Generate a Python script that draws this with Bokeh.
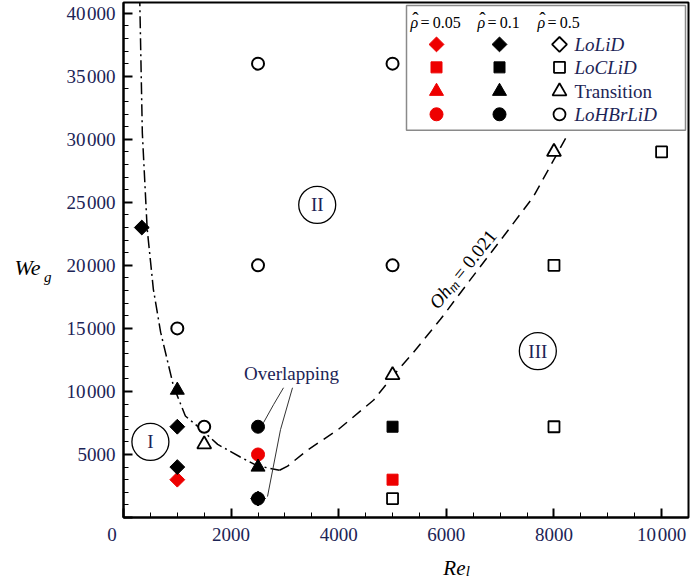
import math
from bokeh.plotting import figure
from bokeh.models import Range1d, FixedTicker, LinearAxis
from bokeh.embed import file_html
from bokeh.resources import INLINE
from bokeh.core.properties import value

# ---------------- data ----------------
x_ticks = [0, 2000, 4000, 6000, 8000, 10000]
x_tick_labels = ["0\u2003\u2009", "2000", "4000", "6000", "8000", "10\u200a000"]
x_minor = [500, 1000, 1500, 2500, 3000, 3500, 4500, 5000, 5500, 6500, 7000, 7500, 8500, 9000, 9500]
y_ticks = [0, 5000, 10000, 15000, 20000, 25000, 30000, 35000, 40000]
y_tick_labels = ["", "5000", "10\u200a000", "15\u200a000", "20\u200a000", "25\u200a000",
                 "30\u200a000", "35\u200a000", "40\u200a000"]
y_minor = [v for v in range(1000, 40001, 1000) if v % 5000]

# rho = 0.05 (red filled)
red_diamond_re = [1000]
red_diamond_we = [3000]
red_square_re = [5000]
red_square_we = [3000]
red_circle_re = [2500]
red_circle_we = [5000]

# rho = 0.1 (black filled)
blk_diamond_re = [340, 1000, 1000, 2500]
blk_diamond_we = [23000, 7200, 4000, 1500]
blk_square_re = [5000]
blk_square_we = [7200]
blk_triangle_re = [1000, 2500]
blk_triangle_we = [10100, 4000]
blk_circle_re = [2500, 2500]
blk_circle_we = [7200, 1500]

# rho = 0.5 (open)
opn_square_re = [5000, 8000, 8000, 10000]
opn_square_we = [1500, 7200, 20000, 29000]
opn_triangle_re = [1500, 5000, 8000]
opn_triangle_we = [5800, 11300, 29000]
opn_circle_re = [1000, 1500, 2500, 2500, 5000, 5000]
opn_circle_we = [15000, 7200, 20000, 36000, 20000, 36000]

# boundary curves
dd_re = [300, 350, 440, 555, 690, 930, 1150, 1400, 1750, 2170, 2490, 2900]
dd_we = [41500, 30500, 22900, 18100, 14700, 10400, 8050, 7150, 5800, 4800, 4100, 3750]
oh_re = [2900, 3050, 3420, 3980, 4650, 5020, 5390, 5890, 6450, 7060, 7620, 8070, 8270]
oh_we = [3750, 4080, 5350, 6940, 9320, 11290, 13110, 15720, 18890, 22290, 25460, 28940, 30500]

# regime labels
regime_names = ["I", "II", "III"]
regime_re = [500, 3600, 7700]
regime_we = [6000, 24800, 13200]

# axis-title anchor values (data units)
we_title_at = 19800
g_sub_at = 19100
re_title_at = 6150
l_sub_at = 6400

# ---------------- figure ----------------
W, H = 690, 582
BL, BR, BT, BB = 123, 2, 2, 64
X_MAX, Y_MAX = 10500, 40850
SX = (W - BL - BR) / X_MAX
SY = (H - BT - BB) / Y_MAX
FL, FB = BL, H - BB


def X(px):
    return (px - FL) / SX


def Y(py):
    return (FB - py) / SY


RED = "#ee0000"
NAVY = "#1c2456"
SERIF = "Liberation Serif"

p = figure(width=W, height=H, x_range=Range1d(0, X_MAX), y_range=Range1d(0, Y_MAX),
           output_backend="svg", toolbar_location=None,
           min_border_left=BL, min_border_right=BR, min_border_top=BT, min_border_bottom=BB)
p.grid.visible = False
p.outline_line_color = "black"
p.outline_line_width = 2
p.background_fill_color = "white"
p.border_fill_color = "white"

p.xaxis.ticker = FixedTicker(ticks=x_ticks, minor_ticks=x_minor)
p.yaxis.ticker = FixedTicker(ticks=y_ticks, minor_ticks=y_minor)
p.xaxis.major_label_overrides = {t: s for t, s in zip(x_ticks, x_tick_labels)}
p.yaxis.major_label_overrides = {t: s for t, s in zip(y_ticks, y_tick_labels)}
for ax in (p.xaxis[0], p.yaxis[0]):
    ax.axis_line_width = 2
    ax.axis_line_color = "black"
    ax.major_tick_in = 9
    ax.major_tick_out = 0
    ax.minor_tick_in = 5
    ax.minor_tick_out = 0
    ax.major_tick_line_width = 2
    ax.minor_tick_line_width = 1
    ax.major_label_text_font = SERIF
    ax.major_label_text_font_size = "19px"
    ax.major_label_text_color = NAVY
p.xaxis.major_label_standoff = 6
p.yaxis.major_label_standoff = 8


def title_axis(tick, text, size, standoff):
    a = LinearAxis(ticker=FixedTicker(ticks=[tick], minor_ticks=[]),
                   major_label_overrides={tick: text})
    a.axis_line_color = None
    a.major_tick_line_color = None
    a.minor_tick_line_color = None
    a.major_tick_in = 0
    a.major_tick_out = 0
    a.major_label_standoff = standoff
    a.major_label_text_font = SERIF
    a.major_label_text_font_size = size
    a.major_label_text_font_style = "italic"
    a.major_label_text_color = "black"
    return a


# axis titles We_g (left) and Re_l (below), built as label-only axes
p.add_layout(title_axis(g_sub_at, "g", "15px", 12), "left")
p.add_layout(title_axis(we_title_at, "We", "22px", 0), "left")
p.add_layout(title_axis(re_title_at, "Re", "21px", 8), "below")
p.add_layout(title_axis(l_sub_at, "l", "15px", -20), "below")

# curves
p.line(dd_re, dd_we, line_color="black", line_width=1.5, line_dash="12 4 2 4")
p.line(oh_re, oh_we, line_color="black", line_width=1.5, line_dash="11 7")

# leader lines for "Overlapping"
p.line([X(283), X(273), X(263)], [Y(388), Y(405), Y(423)], line_color="#333333", line_width=1)
p.line([X(292), X(280), X(267)], [Y(388), Y(430), Y(497)], line_color="#333333", line_width=1)

# regime circles
p.scatter(regime_re, regime_we, marker="circle", size=37, fill_color="white",
          fill_alpha=0.0, line_color="black", line_width=1.3)
p.text(regime_re, regime_we, text=regime_names, text_font=value(SERIF), text_font_size="19px",
       text_color=NAVY, text_align="center", text_baseline="middle")

DSZ = 10.5   # diamond (rotated square) size
SQ = 11
TR = 14
CI = 13
D45 = math.pi / 4

# open (rho=0.5)
p.scatter(opn_square_re, opn_square_we, marker="square", size=SQ, fill_color="white",
          line_color="black", line_width=1.8)
p.scatter(opn_triangle_re, opn_triangle_we, marker="triangle", size=TR, fill_color="white",
          line_color="black", line_width=1.8)
p.scatter(opn_circle_re, opn_circle_we, marker="circle", size=12, fill_color="white",
          line_color="black", line_width=2)
# red (rho=0.05)
p.scatter(red_diamond_re, red_diamond_we, marker="square", angle=D45, size=DSZ, color=RED)
p.scatter(red_square_re, red_square_we, marker="square", size=SQ, color=RED)
p.scatter(red_circle_re, red_circle_we, marker="circle", size=CI, color=RED)
# black (rho=0.1)
p.scatter(blk_diamond_re, blk_diamond_we, marker="square", angle=D45, size=DSZ, color="black")
p.scatter(blk_square_re, blk_square_we, marker="square", size=SQ, color="black")
p.scatter(blk_triangle_re, blk_triangle_we, marker="triangle", size=TR, color="black")
p.scatter(blk_circle_re, blk_circle_we, marker="circle", size=CI, color="black")

# "Overlapping" annotation
p.text([X(291)], [Y(374)], text=["Overlapping"], text_font=value(SERIF), text_font_size="19px",
       text_color=NAVY, text_align="center", text_baseline="middle")

# Oh_m = 0.021 rotated label
ang = math.radians(51)
ux, uy = math.cos(ang), math.sin(ang)
nx, ny = math.sin(ang), -math.cos(ang)
ox, oy = X(437), Y(310)


def along(d, n=0.0):
    return ox + (d * ux + n * nx) / SX, oy + (d * uy + n * ny) / SY


x1, y1 = along(0, -6)
x2, y2 = along(23.5, -2)
x3, y3 = along(37, -6)
p.text([x1], [y1], text=["Oh"], angle=ang, text_font=value(SERIF), text_font_size="19px",
       text_font_style="italic", text_color="black", text_align="left", text_baseline="alphabetic")
p.text([x2], [y2], text=["m"], angle=ang, text_font=value(SERIF), text_font_size="14px",
       text_font_style="italic", text_color="black", text_align="left", text_baseline="alphabetic")
p.text([x3], [y3], text=["= 0.021"], angle=ang, text_font=value(SERIF), text_font_size="19px",
       text_color="black", text_align="left", text_baseline="alphabetic")

# ---------------- legend ----------------
p.quad(left=[X(406)], right=[X(685)], top=[Y(5)], bottom=[Y(130)],
       fill_color="white", line_color="#8a8a8a", line_width=1.5)
hdr_px = [410, 477, 537]
hdr_val = ["=\u20090.05", "=\u20090.1", "=\u20090.5"]
p.text([X(v) for v in hdr_px], [Y(22)] * 3, text=["\u03c1"] * 3, text_font=value(SERIF),
       text_font_size="16px", text_font_style="italic", text_color="black",
       text_align="left", text_baseline="middle")
p.text([X(v + 10) for v in hdr_px], [Y(22)] * 3, text=hdr_val, text_font=value(SERIF),
       text_font_size="16px", text_color="black", text_align="left", text_baseline="middle")
p.text([X(v + 5) for v in hdr_px], [Y(18)] * 3, text=["\u02c6"] * 3, text_font=value(SERIF),
       text_font_size="19px", text_color="black", text_align="center", text_baseline="middle")
row_py = [44, 67, 91, 114]
col_red, col_blk, col_opn, col_lab = X(436), X(499), X(559), X(574)
legend_names = ["LoLiD", "LoCLiD", "Transition", "LoHBrLiD"]
legend_styles = ["italic", "italic", "normal", "italic"]
mk = [("square", D45, DSZ), ("square", 0.0, SQ), ("triangle", 0.0, TR), ("circle", 0.0, CI)]
for (m, a, s), py, name, st in zip(mk, row_py, legend_names, legend_styles):
    yy = Y(py)
    p.scatter([col_red], [yy], marker=m, angle=a, size=s, color=RED)
    p.scatter([col_blk], [yy], marker=m, angle=a, size=s, color="black")
    p.scatter([col_opn], [yy], marker=m, angle=a, size=(s - 1 if m == "circle" else s),
              fill_color="white", line_color="black", line_width=1.8)
    p.text([col_lab], [yy], text=[name], text_font=value(SERIF), text_font_size="19px",
           text_font_style=st, text_color=NAVY, text_align="left", text_baseline="middle")

open("out.html", "w").write(file_html(p, INLINE))
